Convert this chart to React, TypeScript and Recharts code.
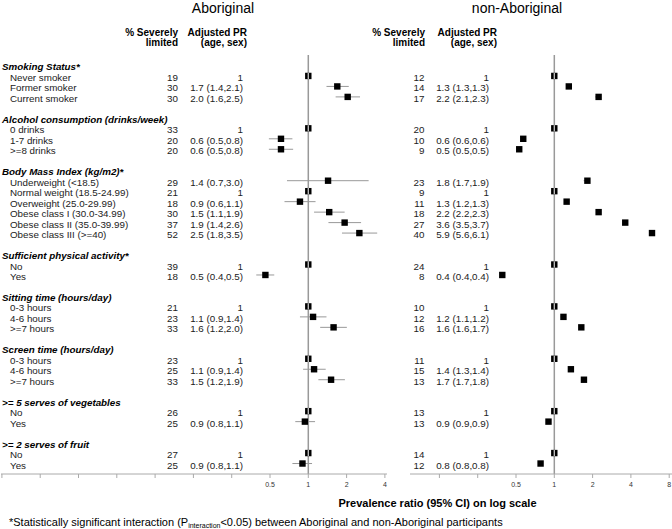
import { ScatterChart, Scatter, XAxis, YAxis, ReferenceLine, ErrorBar } from "recharts";

const groupNames = [
  "Smoking Status*",
  "Alcohol consumption (drinks/week)",
  "Body Mass Index (kg/m2)*",
  "Sufficient physical activity*",
  "Sitting time (hours/day)",
  "Screen time (hours/day)",
  ">= 5 serves of vegetables",
  ">= 2 serves of fruit",
];
const groupSizes = [3, 3, 6, 2, 3, 3, 2, 2];
const rowNames = [
  "Never smoker", "Former smoker", "Current smoker",
  "0 drinks", "1-7 drinks", ">=8 drinks",
  "Underweight (<18.5)", "Normal weight (18.5-24.99)", "Overweight (25.0-29.99)",
  "Obese class I (30.0-34.99)", "Obese class II (35.0-39.99)", "Obese class III (>=40)",
  "No", "Yes",
  "0-3 hours", "4-6 hours", ">=7 hours",
  "0-3 hours", "4-6 hours", ">=7 hours",
  "No", "Yes",
  "No", "Yes",
];

// Aboriginal
const aboPct = [19, 30, 30, 33, 20, 20, 29, 21, 18, 30, 37, 52, 39, 18, 21, 23, 33, 23, 25, 33, 26, 25, 27, 25];
const aboText = [
  "1", "1.7 (1.4,2.1)", "2.0 (1.6,2.5)",
  "1", "0.6 (0.5,0.8)", "0.6 (0.5,0.8)",
  "1.4 (0.7,3.0)", "1", "0.9 (0.6,1.1)", "1.5 (1.1,1.9)", "1.9 (1.4,2.6)", "2.5 (1.8,3.5)",
  "1", "0.5 (0.4,0.5)",
  "1", "1.1 (0.9,1.4)", "1.6 (1.2,2.0)",
  "1", "1.1 (0.9,1.4)", "1.5 (1.2,1.9)",
  "1", "0.9 (0.8,1.1)",
  "1", "0.9 (0.8,1.1)",
];
const aboPR = [1, 1.69, 2.04, 1, 0.61, 0.61, 1.43, 1, 0.86, 1.46, 1.93, 2.52, 1, 0.46, 1, 1.09, 1.58, 1, 1.11, 1.51, 1, 0.94, 1, 0.9];
const aboLo = [1, 1.39, 1.64, 1, 0.49, 0.49, 0.68, 1, 0.65, 1.11, 1.44, 1.84, 1, 0.39, 1, 0.86, 1.24, 1, 0.91, 1.2, 1, 0.79, 1, 0.75];
const aboHi = [1, 2.08, 2.55, 1, 0.75, 0.76, 2.98, 1, 1.14, 1.93, 2.6, 3.48, 1, 0.54, 1, 1.39, 2.01, 1, 1.37, 1.94, 1, 1.13, 1, 1.07];

// non-Aboriginal
const nonPct = [12, 14, 17, 20, 10, 9, 23, 9, 11, 18, 27, 40, 24, 8, 10, 12, 16, 11, 15, 13, 13, 13, 14, 12];
const nonText = [
  "1", "1.3 (1.3,1.3)", "2.2 (2.1,2.3)",
  "1", "0.6 (0.6,0.6)", "0.5 (0.5,0.5)",
  "1.8 (1.7,1.9)", "1", "1.3 (1.2,1.3)", "2.2 (2.2,2.3)", "3.6 (3.5,3.7)", "5.9 (5.6,6.1)",
  "1", "0.4 (0.4,0.4)",
  "1", "1.2 (1.1,1.2)", "1.6 (1.6,1.7)",
  "1", "1.4 (1.3,1.4)", "1.7 (1.7,1.8)",
  "1", "0.9 (0.9,0.9)",
  "1", "0.8 (0.8,0.8)",
];
const nonPR = [1, 1.3, 2.23, 1, 0.57, 0.53, 1.82, 1, 1.25, 2.23, 3.61, 5.86, 1, 0.39, 1, 1.18, 1.63, 1, 1.35, 1.71, 1, 0.9, 1, 0.78];
const nonLo = [1, 1.27, 2.1, 1, 0.55, 0.51, 1.7, 1, 1.2, 2.15, 3.5, 5.6, 1, 0.38, 1, 1.12, 1.58, 1, 1.3, 1.68, 1, 0.88, 1, 0.76];
const nonHi = [1, 1.33, 2.33, 1, 0.6, 0.55, 1.9, 1, 1.3, 2.3, 3.7, 6.1, 1, 0.41, 1, 1.22, 1.7, 1, 1.4, 1.8, 1, 0.92, 1, 0.8];

const leftTicks = [1 / 256, 1 / 128, 1 / 64, 1 / 32, 1 / 16, 1 / 8, 1 / 4, 0.5, 1, 2, 4];
const rightTicks = [0.125, 0.25, 0.5, 1, 2, 4, 8];

// slot layout: group header, its rows, then a blank slot
type Line = { slot: number; group: boolean; text: string; idx: number };
const lines: Line[] = [];
{
  let s = 0;
  let r = 0;
  groupNames.forEach((g, gi) => {
    lines.push({ slot: s++, group: true, text: g, idx: -1 });
    for (let k = 0; k < groupSizes[gi]; k++) {
      lines.push({ slot: s++, group: false, text: rowNames[r], idx: r });
      r++;
    }
    s++;
  });
}
const slotTicks = lines.map((l) => l.slot);
const rowSlots = lines.filter((l) => !l.group);

const makeData = (pr: number[], lo: number[], hi: number[]) =>
  rowSlots.map((l) => ({
    x: pr[l.idx],
    y: l.slot,
    err: [pr[l.idx] - lo[l.idx], hi[l.idx] - pr[l.idx]],
  }));

const aboData = makeData(aboPR, aboLo, aboHi);
const nonData = makeData(nonPR, nonLo, nonHi);

const FONT = "'Liberation Sans', Arial, sans-serif";
const TXT = "#222";
const FS = 9.8;

// reference category squares show the grey reference line through them
const Square = (props: any) => {
  const { cx, cy, payload } = props;
  return (
    <g>
      <rect x={cx - 3.2} y={cy - 3.2} width={6.4} height={6.4} fill="#000" />
      {payload && payload.x === 1 && (
        <line x1={cx} x2={cx} y1={cy - 3.2} y2={cy + 3.2} stroke="#bbb" strokeWidth={1.4} />
      )}
    </g>
  );
};

const fmt = (v: number) => (v === 0.5 ? "0.5" : String(v));

const XTick = (props: any) => {
  const { x, y, payload } = props;
  if (payload.value < 0.5) return null;
  return (
    <text x={x} y={y + 7} textAnchor="middle" fontSize={7} fill="#333" fontFamily={FONT}>
      {fmt(payload.value)}
    </text>
  );
};

const makeYTick = (pct: number[], txt: string[], pctX: number, prX: number, withLabels: boolean) =>
  (props: any) => {
    const { y, payload } = props;
    const line = lines.find((l) => l.slot === payload.value);
    if (!line) return <g />;
    const by = y + 5;
    if (line.group) {
      return withLabels ? (
        <text x={2} y={by} fontSize={FS} fontWeight="bold" fontStyle="italic" fill="#000" fontFamily={FONT}>
          {line.text}
        </text>
      ) : (
        <g />
      );
    }
    return (
      <g fontFamily={FONT} fontSize={FS} fill={TXT}>
        {withLabels && (
          <text x={10} y={by}>
            {line.text}
          </text>
        )}
        <text x={pctX} y={by} textAnchor="end">
          {pct[line.idx]}
        </text>
        <text x={prX} y={by} textAnchor="end">
          {txt[line.idx]}
        </text>
      </g>
    );
  };

const LeftYTick = makeYTick(aboPct, aboText, 178, 243, true);
const RightYTick = makeYTick(nonPct, nonText, 94.5, 159, false);

const Panel = ({
  data,
  ticks,
  domain,
  width,
  margin,
  yTick,
}: {
  data: any[];
  ticks: number[];
  domain: [number, number];
  width: number;
  margin: any;
  yTick: any;
}) => (
  <ScatterChart width={width} height={500} margin={margin}>
    <XAxis
      type="number"
      dataKey="x"
      scale="log"
      domain={domain}
      allowDataOverflow
      ticks={ticks}
      interval={0}
      height={26}
      tickSize={4}
      tick={<XTick />}
      stroke="#aaa"
    />
    <YAxis
      type="number"
      dataKey="y"
      domain={[-1, 39]}
      reversed
      ticks={slotTicks}
      interval={0}
      width={1}
      axisLine={false}
      tickLine={false}
      tick={yTick}
    />
    <ReferenceLine x={1} stroke="#999" strokeWidth={1.5} />
    <Scatter data={data} shape={<Square />} isAnimationActive={false}>
      <ErrorBar dataKey="err" direction="x" width={0} stroke="#999" strokeWidth={1} />
    </Scatter>
  </ScatterChart>
);

export default function App() {
  return (
    <div
      style={{
        position: "absolute",
        left: 0,
        top: 0,
        width: 672,
        height: 529,
        background: "#fff",
        fontFamily: FONT,
        overflow: "hidden",
      }}
    >
      <div style={{ position: "absolute", left: 0, top: 0 }}>
        <Panel
          data={aboData}
          ticks={leftTicks}
          domain={[Math.pow(2, -8.024), Math.pow(2, 2.055)]}
          width={400}
          margin={{ top: 55, right: 13, bottom: 0, left: 0 }}
          yTick={LeftYTick}
        />
      </div>
      <div style={{ position: "absolute", left: 330, top: 0 }}>
        <Panel
          data={nonData}
          ticks={rightTicks}
          domain={[Math.pow(2, -3.768), Math.pow(2, 3.073)]}
          width={342}
          margin={{ top: 55, right: 0, bottom: 0, left: 79 }}
          yTick={RightYTick}
        />
      </div>
      <svg
        width={672}
        height={529}
        style={{ position: "absolute", left: 0, top: 0, pointerEvents: "none" }}
        fontFamily={FONT}
      >
        <text x={223} y={13} textAnchor="middle" fontSize={14} fill="#000">
          Aboriginal
        </text>
        <text x={517} y={13} textAnchor="middle" fontSize={14} fill="#000">
          non-Aboriginal
        </text>
        <g fontSize={10} fontWeight="bold" fill="#000" textAnchor="end">
          <text x={178} y={36}>% Severely</text>
          <text x={178} y={46}>limited</text>
          <text x={247} y={36}>Adjusted PR</text>
          <text x={247} y={46}>(age, sex)</text>
          <text x={425} y={36}>% Severely</text>
          <text x={425} y={46}>limited</text>
          <text x={497} y={36}>Adjusted PR</text>
          <text x={497} y={46}>(age, sex)</text>
        </g>
        <text x={437.5} y={507} textAnchor="middle" fontSize={11} fontWeight="bold" fill="#000">
          Prevalence ratio (95% CI) on log scale
        </text>
        <text x={9} y={526} fontSize={11} fill="#000">
          *Statistically significant interaction (P
          <tspan fontSize={7} dy={2}>
            interaction
          </tspan>
          <tspan dy={-2}>{"<0.05) between Aboriginal and non-Aboriginal participants"}</tspan>
        </text>
      </svg>
    </div>
  );
}
